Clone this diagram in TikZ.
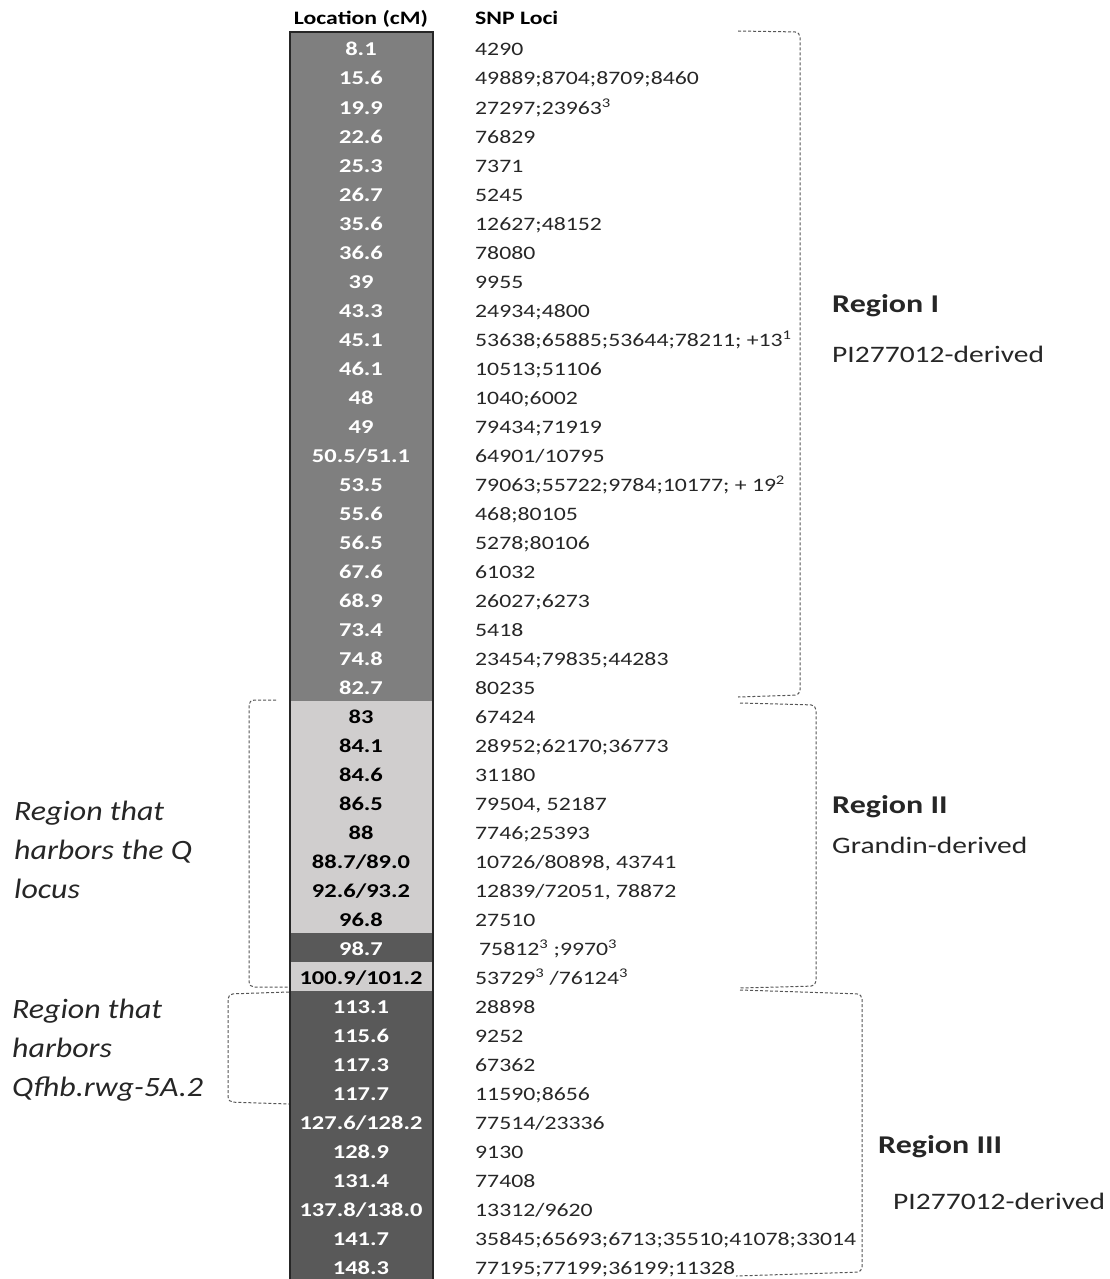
\documentclass[tikz,border=0pt]{standalone}
\usepackage{fontspec}
\setmainfont{Carlito}[FakeStretch=1.25]
\newfontfamily\sidefont{Carlito}[FakeStretch=1.14]
\definecolor{regA}{HTML}{7F7F7F}
\definecolor{regB}{HTML}{D0CECE}
\definecolor{regC}{HTML}{595959}
\definecolor{brk}{HTML}{555555}
\definecolor{txt}{HTML}{262626}
\newcommand\mrow[4]{%
  \node[#2, anchor=base] (L#1) at (361,{56+29*#1}) {#3};
  \node[snp, anchor=base west] (S#1) at (475,{56+29*#1}) {#4};}
\begin{document}
\begin{tikzpicture}[x=1pt,y=-1pt,
  loc/.style={font=\fontsize{19.6}{19.6}\selectfont\bfseries, text=white, inner sep=0pt},
  locd/.style={loc, text=black},
  snp/.style={font=\fontsize{19}{19}\selectfont, inner sep=0pt, text=txt},
  hdr/.style={font=\fontsize{19}{19}\selectfont\bfseries, inner sep=0pt, text=black},
  reg/.style={font=\fontsize{25.6}{25.6}\selectfont\bfseries, inner sep=0pt, anchor=base west, text=txt},
  regsub/.style={font=\fontsize{23.6}{23.6}\selectfont, inner sep=0pt, anchor=base west, text=txt},
  side/.style={font=\sidefont\fontsize{28}{39}\selectfont\itshape, inner sep=0pt, anchor=base west, text=txt, align=left},
  brace/.style={draw=brk, dash pattern=on 3pt off 2pt, line width=1pt, rounded corners=5pt}]
\useasboundingbox (0,0) rectangle (1110,1279);
% bar fills
\fill[regA] (290,33.5) rectangle (433,700.5);
\fill[regB] (290,700.5) rectangle (433,932.5);
\fill[regC] (290,932.5) rectangle (433,961.5);
\fill[regB] (290,961.5) rectangle (433,990.5);
\fill[regC] (290,990.5) rectangle (433,1290);
\draw[line width=2pt, draw=black!85] (290,32.5) rectangle (433,1290);
% headers
\node[hdr, anchor=base] (hloc) at (361,25) {Location (cM)};
\node[hdr, anchor=base west] (hsnp) at (475,25) {SNP Loci};
% rows
\mrow{0}{loc}{8.1}{4290}
\mrow{1}{loc}{15.6}{49889;8704;8709;8460}
\mrow{2}{loc}{19.9}{27297;23963\textsuperscript{3}}
\mrow{3}{loc}{22.6}{76829}
\mrow{4}{loc}{25.3}{7371}
\mrow{5}{loc}{26.7}{5245}
\mrow{6}{loc}{35.6}{12627;48152}
\mrow{7}{loc}{36.6}{78080}
\mrow{8}{loc}{39}{9955}
\mrow{9}{loc}{43.3}{24934;4800}
\mrow{10}{loc}{45.1}{53638;65885;53644;78211; +13\textsuperscript{1}}
\mrow{11}{loc}{46.1}{10513;51106}
\mrow{12}{loc}{48}{1040;6002}
\mrow{13}{loc}{49}{79434;71919}
\mrow{14}{loc}{50.5/51.1}{64901/10795}
\mrow{15}{loc}{53.5}{79063;55722;9784;10177; + 19\textsuperscript{2}}
\mrow{16}{loc}{55.6}{468;80105}
\mrow{17}{loc}{56.5}{5278;80106}
\mrow{18}{loc}{67.6}{61032}
\mrow{19}{loc}{68.9}{26027;6273}
\mrow{20}{loc}{73.4}{5418}
\mrow{21}{loc}{74.8}{23454;79835;44283}
\mrow{22}{loc}{82.7}{80235}
\mrow{23}{locd}{83}{67424}
\mrow{24}{locd}{84.1}{28952;62170;36773}
\mrow{25}{locd}{84.6}{31180}
\mrow{26}{locd}{86.5}{79504, 52187}
\mrow{27}{locd}{88}{7746;25393}
\mrow{28}{locd}{88.7/89.0}{10726/80898, 43741}
\mrow{29}{locd}{92.6/93.2}{12839/72051, 78872}
\mrow{30}{locd}{96.8}{27510}
\mrow{31}{loc}{98.7}{\hspace{4pt}75812\textsuperscript{3} ;9970\textsuperscript{3}}
\mrow{32}{locd}{100.9/101.2}{53729\textsuperscript{3} /76124\textsuperscript{3}}
\mrow{33}{loc}{113.1}{28898}
\mrow{34}{loc}{115.6}{9252}
\mrow{35}{loc}{117.3}{67362}
\mrow{36}{loc}{117.7}{11590;8656}
\mrow{37}{loc}{127.6/128.2}{77514/23336}
\mrow{38}{loc}{128.9}{9130}
\mrow{39}{loc}{131.4}{77408}
\mrow{40}{loc}{137.8/138.0}{13312/9620}
\mrow{41}{loc}{141.7}{35845;65693;6713;35510;41078;33014}
\mrow{42}{loc}{148.3}{77195;77199;36199;11328}
% region labels
\node[reg] (r1) at (832,312) {Region I};
\node[regsub] (r1s) at (832,362) {PI277012-derived};
\node[reg] (r2) at (832,813) {Region II};
\node[regsub] (r2s) at (832,853) {Grandin-derived};
\node[reg] (r3) at (878,1153) {Region III};
\node[regsub] (r3s) at (893,1209) {PI277012-derived};
\node[side] (q1) at (14,898) {Region that\\harbors the Q\\locus};
\node[side] (q2) at (12,1096) {Region that\\harbors\\Qfhb.rwg-5A.2};
% brackets
\draw[brace] (738,31) -- (800,32) -- (800,695) -- (738,697);
\draw[brace] (740,703) -- (816,705) -- (816,986) -- (740,988);
\draw[brace] (740,990) -- (862,994) -- (862,1272) -- (736,1276);
\draw[brace] (276,700) -- (249,700) -- (249,987) -- (289,987);
\draw[brace] (289,992) -- (228,994) -- (228,1102) -- (289,1104);
\end{tikzpicture}
\end{document}
